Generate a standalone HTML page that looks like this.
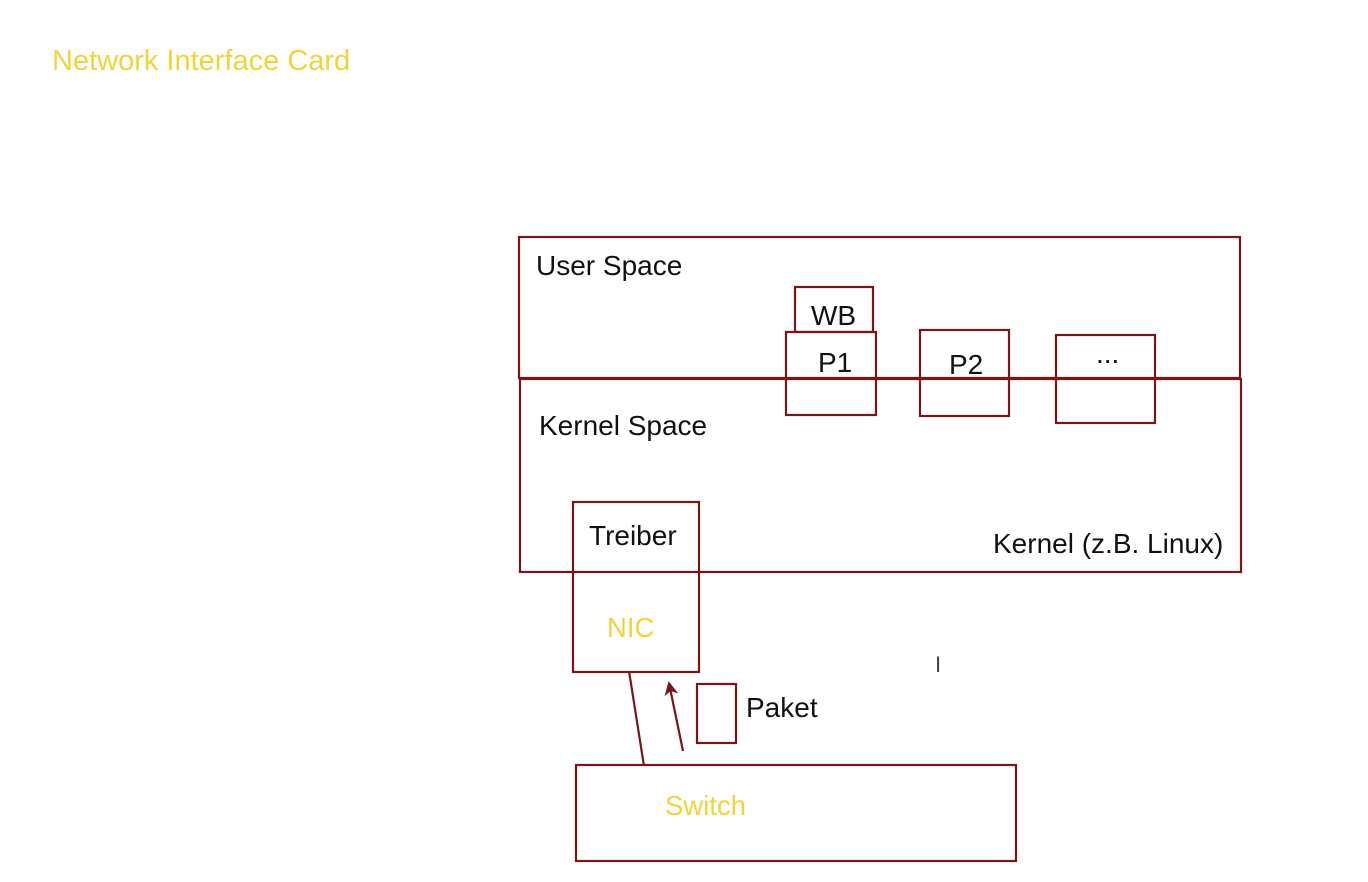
<!DOCTYPE html>
<html><head><meta charset="utf-8"><style>
html,body{margin:0;padding:0;background:#fff;width:1368px;height:882px;overflow:hidden}
svg{display:block}
text{font-family:"Liberation Sans",sans-serif}
</style></head><body>
<svg width="1368" height="882" viewBox="0 0 1368 882">
<defs><marker id="ah" markerWidth="14" markerHeight="14" refX="7" refY="7" orient="auto" markerUnits="userSpaceOnUse"><path d="M0,0 L14,7 L0,14 L4,7 Z" fill="#7a1616"/></marker></defs>
<text x="52" y="70" font-size="29" fill="#f2d43a">Network Interface Card</text>
<g fill="none" stroke="#7a1616" stroke-width="2.2">
<rect x="519" y="237" width="721" height="141"/>
<rect x="520" y="379" width="721" height="193"/>
<rect x="795" y="287" width="78" height="45"/>
<rect x="786" y="332" width="90" height="83"/>
<rect x="920" y="330" width="89" height="86"/>
<rect x="1056" y="335" width="99" height="88"/>
<rect x="573" y="502" width="126" height="170"/>
<rect x="697" y="684" width="39" height="59"/>
<rect x="576" y="765" width="440" height="96"/>
<line x1="629" y1="671" x2="644" y2="766"/>
<line x1="683" y1="751" x2="670" y2="688" marker-end="url(#ah)"/>
</g>
<g font-size="28" fill="#111">
<text x="536" y="275">User Space</text>
<text x="539" y="435">Kernel Space</text>
<text x="811" y="325">WB</text>
<text x="818" y="372">P1</text>
<text x="949" y="374">P2</text>
<text x="1096" y="363">...</text>
<text x="589" y="545">Treiber</text>
<text x="993" y="553">Kernel (z.B. Linux)</text>
<text x="746" y="717">Paket</text>
</g>
<text x="607" y="637" font-size="27.5" fill="#f2d43a">NIC</text>
<text x="665" y="815" font-size="27.5" fill="#f2d43a">Switch</text>
<text x="935" y="672" font-size="22" fill="#444">I</text>
</svg>
</body></html>
